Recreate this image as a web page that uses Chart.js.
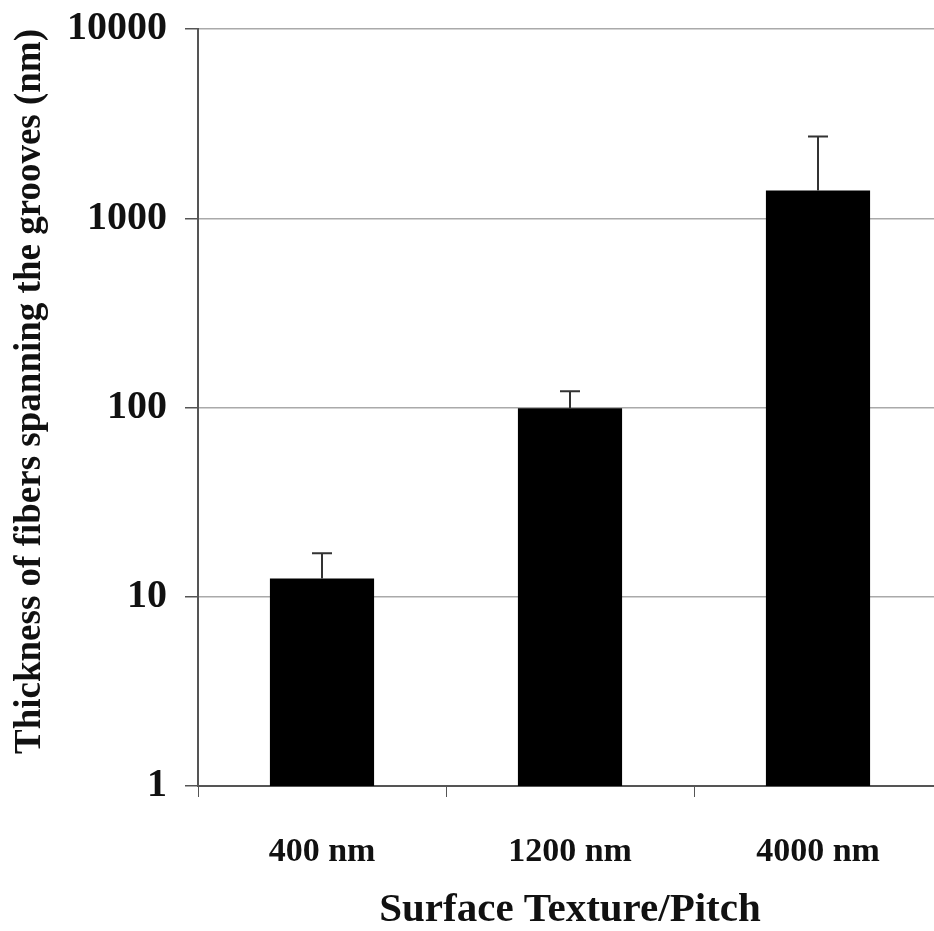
<!DOCTYPE html>
<html>
<head>
<meta charset="utf-8">
<script src="https://cdn.jsdelivr.net/npm/chart.js@4.4.0/dist/chart.umd.min.js"></script>
<style>
  html, body { margin: 0; padding: 0; background: #fff; overflow: hidden; }
  #wrap { width: 942px; height: 931px; }
</style>
</head>
<body>
<div id="wrap"><canvas id="fiberChart" width="942" height="931"></canvas></div>
<script>
// data
const pitchLabels = ["400 nm", "1200 nm", "4000 nm"];
const thickness = [12.5, 99, 1400];
const errorTop = [17, 122, 2700];
const yTicks = [1, 10, 100, 1000, 10000];

const serif = "'Liberation Serif', 'Times New Roman', serif";

// draws the upper error bars on top of the bars
const errorBars = {
    id: "errorBars",
    afterDatasetsDraw(chart) {
        const ctx = chart.ctx;
        const yScale = chart.scales.y;
        const meta = chart.getDatasetMeta(0);
        ctx.save();
        ctx.strokeStyle = "#333";
        ctx.lineWidth = 2;
        meta.data.forEach((bar, i) => {
            const yTop = yScale.getPixelForValue(errorTop[i]);
            ctx.beginPath();
            ctx.moveTo(bar.x, bar.y);
            ctx.lineTo(bar.x, yTop);
            ctx.moveTo(bar.x - 10, yTop);
            ctx.lineTo(bar.x + 10, yTop);
            ctx.stroke();
        });
        ctx.restore();
    }
};

const ctx = document.getElementById("fiberChart").getContext("2d");
new Chart(ctx, {
    type: "bar",
    data: {
        labels: pitchLabels,
        datasets: [{
            data: thickness,
            backgroundColor: "#000",
            borderWidth: 0,
            categoryPercentage: 1,
            barPercentage: 0.42
        }]
    },
    options: {
        responsive: false,
        animation: false,
        layout: { padding: { top: 29, right: 0, left: 0, bottom: 0 } },
        plugins: {
            legend: { display: false },
            tooltip: { enabled: false }
        },
        scales: {
            x: {
                grid: {
                    display: true,
                    drawOnChartArea: false,
                    offset: true,
                    tickLength: 11,
                    color: "#555"
                },
                border: { color: "#555", width: 2 },
                ticks: {
                    color: "#111",
                    padding: 35,
                    font: { family: serif, size: 34, weight: "bold" }
                },
                title: {
                    display: true,
                    text: "Surface Texture/Pitch",
                    color: "#111",
                    padding: { top: 0, bottom: -4 },
                    font: { family: serif, size: 41, weight: "bold" }
                },
                afterFit(scale) {
                    scale.height = 145;
                    scale.paddingLeft = 0;
                    scale.paddingRight = 0;
                }
            },
            y: {
                type: "logarithmic",
                min: 1,
                max: 10000,
                afterBuildTicks(scale) {
                    scale.ticks = yTicks.map(v => ({ value: v }));
                },
                grid: {
                    color: "#aaa",
                    lineWidth: 1.5,
                    tickColor: "#555",
                    tickLength: 13
                },
                border: { color: "#555", width: 2 },
                ticks: {
                    color: "#111",
                    padding: 18,
                    font: { family: serif, size: 40, weight: "bold" },
                    callback: v => String(v)
                },
                title: {
                    display: true,
                    text: "Thickness of fibers spanning the grooves (nm)",
                    color: "#111",
                    align: "end",
                    padding: { top: 8, bottom: 0 },
                    font: { family: serif, size: 37, weight: "bold" }
                },
                afterFit(scale) {
                    scale.width = 198;
                    scale.paddingTop = 0;
                    scale.paddingBottom = 0;
                }
            }
        }
    },
    plugins: [errorBars]
});
</script>
</body>
</html>
